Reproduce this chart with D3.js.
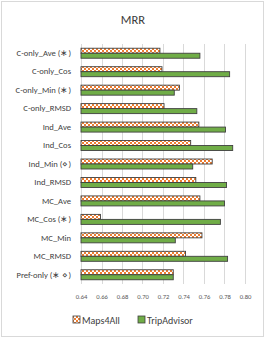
<!DOCTYPE html>
<html>
<head>
<meta charset="utf-8">
<script src="https://cdn.jsdelivr.net/npm/d3@7"></script>
<style>
  body { margin: 0; background: #fff; }
  svg { font-family: Carlito, "Liberation Sans", Arial, sans-serif; }
</style>
</head>
<body>
<div id="chart"></div>
<script>
const categories = ['C-only_Ave (\u2217)', 'C-only_Cos', 'C-only_Min (\u2217)', 'C-only_RMSD',
  'Ind_Ave', 'Ind_Cos', 'Ind_Min (\u22c4)', 'Ind_RMSD', 'MC_Ave', 'MC_Cos (\u2217)',
  'MC_Min', 'MC_RMSD', 'Pref-only (\u2217 \u22c4)'];
const maps4all = [0.717, 0.719, 0.736, 0.721, 0.755, 0.747, 0.768, 0.752, 0.756, 0.659, 0.758, 0.742, 0.730];
const tripAdvisor = [0.756, 0.785, 0.731, 0.753, 0.781, 0.788, 0.749, 0.782, 0.780, 0.776, 0.732, 0.783, 0.730];
const tickValues = [0.64, 0.66, 0.68, 0.70, 0.72, 0.74, 0.76, 0.78, 0.80];
const seriesNames = ['Maps4All', 'TripAdvisor'];

const width = 266, height = 340;
const margin = {top: 44, right: 21, bottom: 56, left: 81};
const font = 'Carlito, "Liberation Sans", Arial, sans-serif';

const svg = d3.select('#chart').append('svg')
  .attr('width', width).attr('height', height);

// checker pattern for Maps4All
const defs = svg.append('defs');
const pat = defs.append('pattern').attr('id', 'checker')
  .attr('patternUnits', 'userSpaceOnUse').attr('width', 4).attr('height', 4);
pat.append('rect').attr('width', 4).attr('height', 4).attr('fill', '#fff');
pat.append('rect').attr('width', 2).attr('height', 2).attr('fill', '#ed7d31');
pat.append('rect').attr('x', 2).attr('y', 2).attr('width', 2).attr('height', 2).attr('fill', '#ed7d31');

svg.append('rect').attr('x', 1.5).attr('y', 1.5).attr('width', 262).attr('height', 335)
  .attr('fill', '#fff').attr('stroke', '#d9d9d9');

svg.append('text').attr('x', 133).attr('y', 24).attr('text-anchor', 'middle')
  .attr('font-size', 12.5).attr('fill', '#404040').text('MRR');

const x = d3.scaleLinear().domain([0.64, 0.80]).range([margin.left, width - margin.right]);
const y = d3.scaleBand().domain(categories).range([margin.top, height - margin.bottom]);

// gridlines
svg.append('g').selectAll('line').data(tickValues).enter().append('line')
  .attr('x1', d => Math.round(x(d)) + 0.5).attr('x2', d => Math.round(x(d)) + 0.5)
  .attr('y1', margin.top).attr('y2', height - margin.bottom)
  .attr('stroke', '#d9d9d9').attr('stroke-width', 1);

const xAxis = svg.append('g').attr('transform', `translate(0,${height - margin.bottom})`)
  .call(d3.axisBottom(x).tickValues(tickValues).tickFormat(d3.format('.2f')).tickSize(0).tickPadding(10));
xAxis.select('.domain').remove();
xAxis.selectAll('text').attr('font-size', 6.6).attr('fill', '#595959').attr('font-family', font);

const yAxis = svg.append('g').attr('transform', `translate(${margin.left},0)`)
  .call(d3.axisLeft(y).tickSize(0).tickPadding(10));
yAxis.select('.domain').remove();
yAxis.selectAll('text').attr('font-size', 8.6).attr('fill', '#404040').attr('font-family', font);

const barH = 5;
const rows = categories.map((c, i) => ({c, m: maps4all[i], t: tripAdvisor[i]}));
const g = svg.append('g');
g.selectAll('.m').data(rows).enter().append('rect').attr('class', 'm')
  .attr('x', x(0.64)).attr('y', d => y(d.c) + y.bandwidth() / 2 - barH)
  .attr('width', d => x(d.m) - x(0.64)).attr('height', barH)
  .attr('fill', 'url(#checker)').attr('stroke', '#404040').attr('stroke-width', 0.9);
g.selectAll('.t').data(rows).enter().append('rect').attr('class', 't')
  .attr('x', x(0.64)).attr('y', d => y(d.c) + y.bandwidth() / 2)
  .attr('width', d => x(d.t) - x(0.64)).attr('height', barH)
  .attr('fill', '#70ad47').attr('stroke', '#404040').attr('stroke-width', 0.9);

// legend
const legend = svg.append('g');
const legX = [73, 138];
legend.selectAll('rect').data(seriesNames).enter().append('rect')
  .attr('x', (d, i) => legX[i]).attr('y', 316).attr('width', 7).attr('height', 7)
  .attr('fill', (d, i) => i === 0 ? 'url(#checker)' : '#70ad47')
  .attr('stroke', '#404040').attr('stroke-width', 0.8);
legend.selectAll('text').data(seriesNames).enter().append('text')
  .attr('x', (d, i) => legX[i] + 9).attr('y', 323.5)
  .attr('font-size', 10).attr('fill', '#404040').text(d => d);
</script>
</body>
</html>
